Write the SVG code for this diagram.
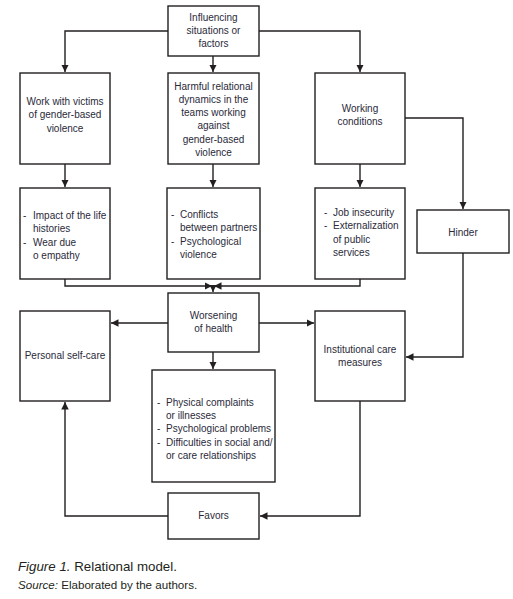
<svg xmlns="http://www.w3.org/2000/svg" width="513" height="599" viewBox="0 0 513 599">
<style>
.box{fill:#fff;stroke:#231f20;stroke-width:1.4}
.ln{fill:none;stroke:#231f20;stroke-width:1.4}
text{font-family:"Liberation Sans",Arial,sans-serif;font-size:10px;fill:#2a2a3a}
.c{text-anchor:middle}
.cap{font-size:13.3px;fill:#231f20}
.src{font-size:11.6px;fill:#231f20}
</style>
<defs>
<marker id="ah" viewBox="0 0 10 10" refX="10" refY="5" markerWidth="7.5" markerHeight="7.5" markerUnits="userSpaceOnUse" orient="auto">
<path d="M0,0 L10,5 L0,10 z" fill="#231f20"/>
</marker>
</defs>
<rect width="513" height="599" fill="#fff"/>
<g id="connectors">
<path class="ln" d="M168,31 H65 V72" marker-end="url(#ah)"/>
<path class="ln" d="M259,31 H360 V72" marker-end="url(#ah)"/>
<path class="ln" d="M213,56 V72" marker-end="url(#ah)"/>
<path class="ln" d="M65,164 V187" marker-end="url(#ah)"/>
<path class="ln" d="M213,164 V187" marker-end="url(#ah)"/>
<path class="ln" d="M360,164 V187" marker-end="url(#ah)"/>
<path class="ln" d="M405,118 H463 V209" marker-end="url(#ah)"/>
<path class="ln" d="M65,279 V286 H212" marker-end="url(#ah)"/>
<path class="ln" d="M360,279 V286 H214" marker-end="url(#ah)"/>
<path class="ln" d="M213,286 V292" marker-end="url(#ah)"/>
<path class="ln" d="M168,323 H111" marker-end="url(#ah)"/>
<path class="ln" d="M259,323 H314" marker-end="url(#ah)"/>
<path class="ln" d="M463,253 V357 H406" marker-end="url(#ah)"/>
<path class="ln" d="M213,352 V369" marker-end="url(#ah)"/>
<path class="ln" d="M168,516 H65 V402" marker-end="url(#ah)"/>
<path class="ln" d="M360,401 V516 H260" marker-end="url(#ah)"/>
</g>
<g id="influencing">
<rect class="box" x="168" y="6" width="91" height="50"/>
<text class="c" x="213.5" y="20.5">Influencing</text>
<text class="c" x="213.5" y="33.5">situations or</text>
<text class="c" x="213.5" y="46.5">factors</text>
</g>
<g id="work-victims">
<rect class="box" x="20" y="73" width="90" height="91"/>
<text class="c" x="65" y="104.5">Work with victims</text>
<text class="c" x="65" y="118">of gender-based</text>
<text class="c" x="65" y="131.5">violence</text>
</g>
<g id="harmful">
<rect class="box" x="168" y="73" width="91" height="91"/>
<text class="c" x="213.5" y="89.5">Harmful relational</text>
<text class="c" x="213.5" y="102.8">dynamics in the</text>
<text class="c" x="213.5" y="116.1">teams working</text>
<text class="c" x="213.5" y="129.4">against</text>
<text class="c" x="213.5" y="142.7">gender-based</text>
<text class="c" x="213.5" y="156">violence</text>
</g>
<g id="working-conditions">
<rect class="box" x="315" y="73" width="90" height="91"/>
<text class="c" x="360" y="112.2">Working</text>
<text class="c" x="360" y="124.8">conditions</text>
</g>
<g id="impact">
<rect class="box" x="20" y="188" width="90" height="91"/>
<text x="23" y="219.2">-</text><text x="33" y="219.2">Impact of the life</text>
<text x="33" y="232.2">histories</text>
<text x="23" y="246.2">-</text><text x="33" y="246.2">Wear due</text>
<text x="33" y="259.2">o empathy</text>
</g>
<g id="conflicts">
<rect class="box" x="167" y="188" width="93" height="91"/>
<text x="171" y="217.8">-</text><text x="180" y="217.8">Conflicts</text>
<text x="180" y="231.2">between partners</text>
<text x="171" y="245.2">-</text><text x="180" y="245.2">Psychological</text>
<text x="180" y="257.8">violence</text>
</g>
<g id="job">
<rect class="box" x="315" y="188" width="90" height="91"/>
<text x="324" y="215.8">-</text><text x="333" y="215.8">Job insecurity</text>
<text x="324" y="228.8">-</text><text x="333" y="228.8">Externalization</text>
<text x="333" y="242.8">of public</text>
<text x="333" y="255.8">services</text>
</g>
<g id="hinder">
<rect class="box" x="417" y="210" width="92" height="43"/>
<text class="c" x="463" y="235.8">Hinder</text>
</g>
<g id="worsening">
<rect class="box" x="168" y="293" width="91" height="59"/>
<text class="c" x="213.5" y="319.2">Worsening</text>
<text class="c" x="213.5" y="331.8">of health</text>
</g>
<g id="self-care">
<rect class="box" x="20" y="311" width="90" height="90"/>
<text class="c" x="65" y="358.5">Personal self-care</text>
</g>
<g id="institutional">
<rect class="box" x="315" y="311" width="90" height="90"/>
<text class="c" x="360" y="352.8">Institutional care</text>
<text class="c" x="360" y="365.8">measures</text>
</g>
<g id="symptoms">
<rect class="box" x="152" y="370" width="123" height="112"/>
<text x="157" y="406.2">-</text><text x="166" y="406.2">Physical complaints</text>
<text x="166" y="419.2">or illnesses</text>
<text x="157" y="432.2">-</text><text x="166" y="432.2">Psychological problems</text>
<text x="157" y="445.8">-</text><text x="166" y="445.8">Difficulties in social and/</text>
<text x="166" y="458.8">or care relationships</text>
</g>
<g id="favors">
<rect class="box" x="168" y="493" width="91" height="46"/>
<text class="c" x="213.5" y="518.8">Favors</text>
</g>
<g id="caption">
<text class="cap" x="18" y="570.5"><tspan font-style="italic">Figure 1.</tspan> Relational model.</text>
<text class="src" x="18" y="588.5"><tspan font-style="italic">Source:</tspan> Elaborated by the authors.</text>
</g>
</svg>
